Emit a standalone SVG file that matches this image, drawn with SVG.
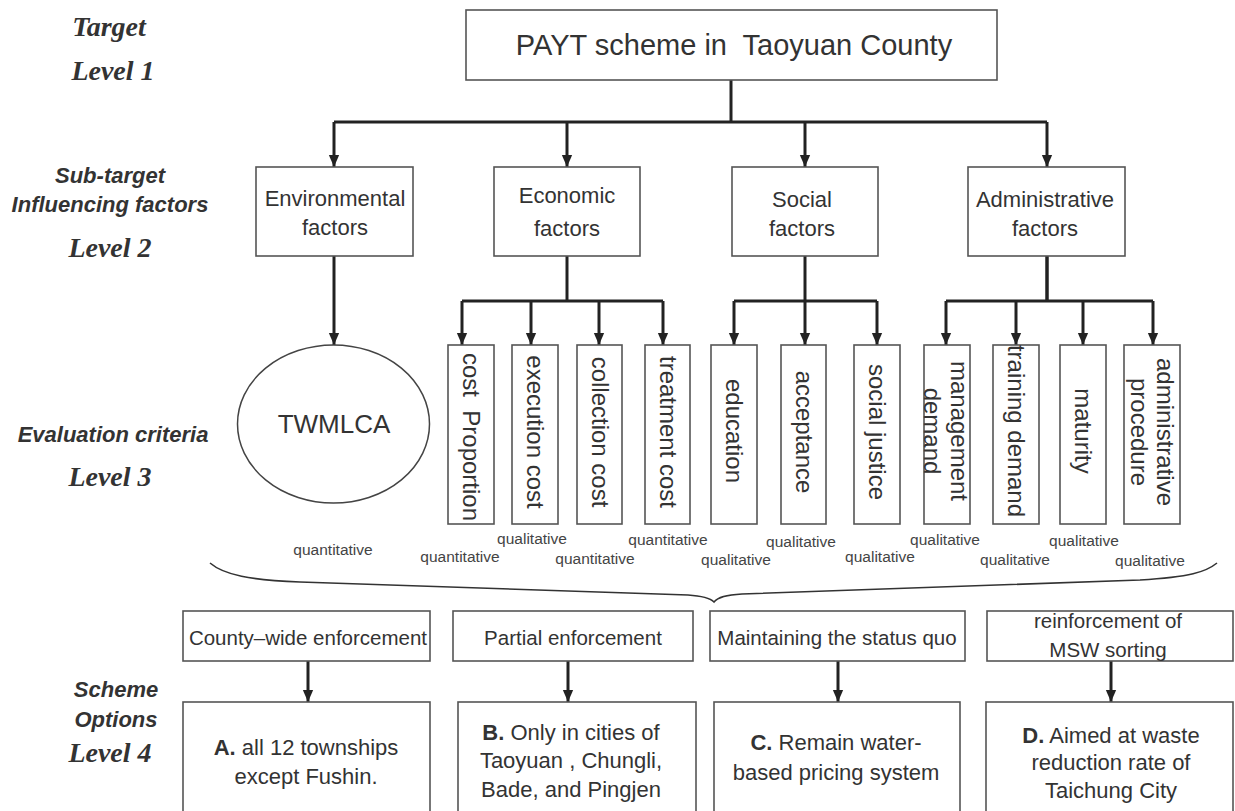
<svg xmlns="http://www.w3.org/2000/svg" width="1235" height="811" viewBox="0 0 1235 811">
<defs>
<marker id="ah" markerUnits="userSpaceOnUse" markerWidth="12" markerHeight="14" viewBox="0 0 14 12" refX="14" refY="6" orient="auto">
<path d="M0,0 L14,6 L0,12 Z" fill="#222"/>
</marker>
</defs>
<style>
.box{fill:#fff;stroke:#555;stroke-width:1.6}
.ln{fill:none;stroke:#222;stroke-width:3}
.ar{fill:none;stroke:#222;stroke-width:3;marker-end:url(#ah)}
.t{font-family:"Liberation Sans",Arial,sans-serif;fill:#333;text-anchor:middle}
.lv{font-family:"Liberation Serif","Times New Roman",serif;font-weight:bold;font-style:italic;font-size:28px;fill:#333;text-anchor:middle}
.lb{font-family:"Liberation Sans",Arial,sans-serif;font-weight:bold;font-style:italic;font-size:22px;fill:#333;text-anchor:middle}
.q{font-family:"Liberation Sans",Arial,sans-serif;font-size:15.5px;fill:#444;text-anchor:middle}
.m{font-size:22px}
.r{font-size:24px}
</style>

<g id="level-labels">
<text class="lv" x="109" y="36">Target</text>
<text class="lv" x="113" y="80">Level 1</text>
<text class="lb" x="110" y="183">Sub-target</text>
<text class="lb" x="110" y="212">Influencing factors</text>
<text class="lv" x="110" y="257">Level 2</text>
<text class="lb" x="113" y="442">Evaluation criteria</text>
<text class="lv" x="110" y="486">Level 3</text>
<text class="lb" x="116" y="697">Scheme</text>
<text class="lb" x="116" y="727">Options</text>
<text class="lv" x="110" y="762">Level 4</text>
</g>

<g id="connectors">
<path class="ln" d="M731,80 V122"/>
<path class="ln" d="M334,122 H1047"/>
<path class="ar" d="M334,122 V167"/>
<path class="ar" d="M567,122 V167"/>
<path class="ar" d="M805,122 V167"/>
<path class="ar" d="M1047,122 V167"/>
<path class="ar" d="M334,256 V345"/>
<path class="ln" d="M567,256 V301"/>
<path class="ln" d="M462,301 H663"/>
<path class="ar" d="M462,301 V345"/>
<path class="ar" d="M531,301 V345"/>
<path class="ar" d="M599,301 V345"/>
<path class="ar" d="M663,301 V345"/>
<path class="ln" d="M805,256 V301"/>
<path class="ln" d="M734,301 H877"/>
<path class="ar" d="M734,301 V345"/>
<path class="ar" d="M805,301 V345"/>
<path class="ar" d="M877,301 V345"/>
<path class="ln" d="M1047,256 V301" style="stroke-width:3.5"/>
<path class="ln" d="M946,301 H1153"/>
<path class="ar" d="M946,301 V345"/>
<path class="ar" d="M1016,301 V345"/>
<path class="ar" d="M1083,301 V345"/>
<path class="ar" d="M1153,301 V345"/>
<path class="ar" d="M308,661 V702"/>
<path class="ar" d="M568,661 V702"/>
<path class="ar" d="M838,661 V702"/>
<path class="ar" d="M1111,661 V702"/>
<path id="brace" d="M210,563 C224,575 250,580 300,582 L688,595 C703,596 710,598 714,602 C718,597 726,595 742,594 L1140,580 C1190,577 1206,572 1217,563" fill="none" stroke="#333" stroke-width="1.6"/>
</g>

<g id="target">
<rect class="box" x="466" y="10" width="531" height="70"/>
<text class="t" x="734" y="55" style="font-size:29px">PAYT scheme in&#160; Taoyuan County</text>
</g>

<g id="env">
<rect class="box" x="256" y="167" width="157" height="89"/>
<text class="t m" x="335" y="206">Environmental</text>
<text class="t m" x="335" y="235">factors</text>
</g>
<g id="econ">
<rect class="box" x="494" y="167" width="146" height="89"/>
<text class="t m" x="567" y="203">Economic</text>
<text class="t m" x="567" y="236">factors</text>
</g>
<g id="social">
<rect class="box" x="732" y="167" width="146" height="89"/>
<text class="t m" x="802" y="207">Social</text>
<text class="t m" x="802" y="236">factors</text>
</g>
<g id="admin">
<rect class="box" x="968" y="167" width="157" height="89"/>
<text class="t m" x="1045" y="207">Administrative</text>
<text class="t m" x="1045" y="236">factors</text>
</g>

<g id="twmlca">
<ellipse cx="333.5" cy="424" rx="96" ry="79" fill="#fff" stroke="#444" stroke-width="1.5"/>
<text class="t" x="334" y="433" style="font-size:26px">TWMLCA</text>
</g>

<g id="cost-proportion">
<rect class="box" x="448" y="345" width="46" height="179"/>
<text class="t r" transform="translate(471,437) rotate(90)" x="0" y="8">cost&#160; Proportion</text>
</g>
<g id="execution-cost">
<rect class="box" x="512" y="345" width="46" height="179"/>
<text class="t r" transform="translate(535,432) rotate(90)" x="0" y="8">execution cost</text>
</g>
<g id="collection-cost">
<rect class="box" x="577" y="345" width="45" height="179"/>
<text class="t r" transform="translate(599.5,432) rotate(90)" x="0" y="8">collection cost</text>
</g>
<g id="treatment-cost">
<rect class="box" x="645" y="345" width="45" height="179"/>
<text class="t r" transform="translate(667.5,432) rotate(90)" x="0" y="8">treatment cost</text>
</g>
<g id="education">
<rect class="box" x="711" y="345" width="46" height="179"/>
<text class="t r" transform="translate(734,431) rotate(90)" x="0" y="8">education</text>
</g>
<g id="acceptance">
<rect class="box" x="781" y="345" width="45" height="179"/>
<text class="t r" transform="translate(803.5,432) rotate(90)" x="0" y="8">acceptance</text>
</g>
<g id="social-justice">
<rect class="box" x="854" y="345" width="46" height="179"/>
<text class="t r" transform="translate(877,432) rotate(90)" x="0" y="8">social justice</text>
</g>
<g id="management-demand">
<rect class="box" x="924" y="345" width="46" height="179"/>
<text class="t r" transform="translate(951,431) rotate(90)"><tspan x="0" y="0">management</tspan><tspan x="0" y="27">demand</tspan></text>
</g>
<g id="training-demand">
<rect class="box" x="993" y="345" width="46" height="179"/>
<text class="t r" transform="translate(1016,431) rotate(90)" x="0" y="8">training demand</text>
</g>
<g id="maturity">
<rect class="box" x="1060" y="345" width="46" height="179"/>
<text class="t r" transform="translate(1083,431) rotate(90)" x="0" y="8">maturity</text>
</g>
<g id="administrative-procedure">
<rect class="box" x="1124" y="345" width="56" height="179"/>
<text class="t r" transform="translate(1157,432) rotate(90)"><tspan x="0" y="0">administrative</tspan><tspan x="0" y="26">procedure</tspan></text>
</g>

<g id="criteria-types">
<text class="q" x="333" y="555">quantitative</text>
<text class="q" x="460" y="562">quantitative</text>
<text class="q" x="532" y="544">qualitative</text>
<text class="q" x="595" y="564">quantitative</text>
<text class="q" x="668" y="545">quantitative</text>
<text class="q" x="736" y="565">qualitative</text>
<text class="q" x="801" y="547">qualitative</text>
<text class="q" x="880" y="562">qualitative</text>
<text class="q" x="945" y="545">qualitative</text>
<text class="q" x="1015" y="565">qualitative</text>
<text class="q" x="1084" y="546">qualitative</text>
<text class="q" x="1150" y="566">qualitative</text>
</g>

<g id="county-wide">
<rect class="box" x="183" y="611" width="247" height="50"/>
<text class="t" x="308" y="645" style="font-size:20.5px">County–wide enforcement</text>
</g>
<g id="partial">
<rect class="box" x="453" y="611" width="240" height="50"/>
<text class="t" x="573" y="645" style="font-size:20.5px">Partial enforcement</text>
</g>
<g id="status-quo">
<rect class="box" x="710" y="611" width="255" height="50"/>
<text class="t" x="837" y="645" style="font-size:20.5px">Maintaining the status quo</text>
</g>
<g id="msw-sorting">
<rect class="box" x="987" y="611" width="246" height="50"/>
<text class="t" x="1108" y="628" style="font-size:20.5px">reinforcement of</text>
<text class="t" x="1108" y="657" style="font-size:20.5px">MSW sorting</text>
</g>

<g id="option-a">
<rect class="box" x="183" y="702" width="247" height="120"/>
<text class="t m" x="306" y="755"><tspan font-weight="bold">A.</tspan> all 12 townships</text>
<text class="t m" x="306" y="784">except Fushin.</text>
</g>
<g id="option-b">
<rect class="box" x="458" y="702" width="238" height="120"/>
<text class="t m" x="571" y="740"><tspan font-weight="bold">B.</tspan> Only in cities of</text>
<text class="t m" x="571" y="768">Taoyuan , Chungli,</text>
<text class="t m" x="571" y="797">Bade, and Pingjen</text>
</g>
<g id="option-c">
<rect class="box" x="714" y="702" width="246" height="120"/>
<text class="t m" x="836" y="750"><tspan font-weight="bold">C.</tspan> Remain water-</text>
<text class="t m" x="836" y="780">based pricing system</text>
</g>
<g id="option-d">
<rect class="box" x="986" y="702" width="247" height="120"/>
<text class="t m" x="1111" y="743"><tspan font-weight="bold">D.</tspan> Aimed at waste</text>
<text class="t m" x="1111" y="770">reduction rate of</text>
<text class="t m" x="1111" y="798">Taichung City</text>
</g>
</svg>
